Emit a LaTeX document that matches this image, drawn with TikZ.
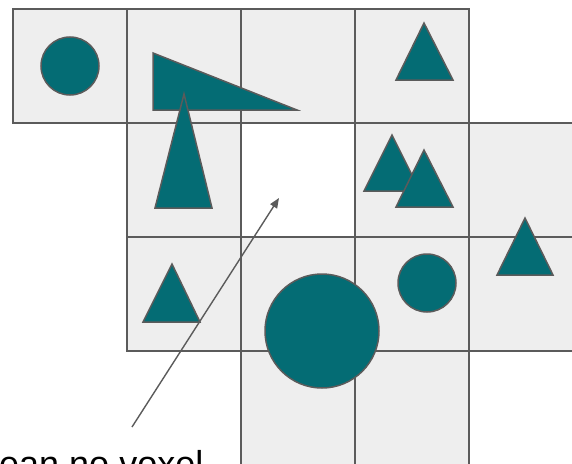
\documentclass[tikz,border=0pt]{standalone}
\usepackage{fontspec}
\setmainfont{Liberation Sans}
\usetikzlibrary{arrows.meta}
\definecolor{cellgray}{HTML}{EEEEEE}
\definecolor{linegray}{HTML}{5B5B5B}
\definecolor{teal}{HTML}{046C74}
\tikzset{
  cellbox/.style={fill=cellgray, draw=linegray, line width=1.8pt},
  shapefill/.style={fill=teal, draw=linegray, line width=1.5pt, line join=miter},
  pointer/.style={draw=linegray, line width=1.4pt, -{Triangle[length=10pt,width=8pt]}},
  label/.style={anchor=base west, inner sep=0pt, font=\fontsize{36}{40}\selectfont}
}
\begin{document}
\begin{tikzpicture}[x=1pt,y=-1pt]
\clip (0,0) rectangle (572,463);
\useasboundingbox (0,0) rectangle (572,463);
% cells (col,row) -> x=13+114*col, y=9+114*row
\foreach \c/\r in {0/0,1/0,2/0,3/0, 1/1,3/1,4/1, 1/2,2/2,3/2,4/2, 2/3,3/3}{
  \draw[cellbox] ({13+114*\c},{9+114*\r}) rectangle ++(114,114);
}
% shapes
\draw[shapefill] (70,66) circle[radius=29];
\draw[shapefill] (153,53) -- (153,110) -- (297,110) -- cycle;
\draw[shapefill] (184,94) -- (212,208) -- (155,208) -- cycle;
\draw[shapefill] (424,23) -- (453,80) -- (396,80) -- cycle;
\draw[shapefill] (392,135) -- (420,191) -- (364,191) -- cycle;
\draw[shapefill] (424,150) -- (453,207) -- (396,207) -- cycle;
\draw[shapefill] (525,218) -- (553,275) -- (497,275) -- cycle;
\draw[shapefill] (172,264) -- (200,322) -- (143,322) -- cycle;
\draw[shapefill] (322,331) circle[radius=57];
\draw[shapefill] (427,283) circle[radius=29];
% pointer
\coordinate (tail) at (132,427);
\coordinate (tip) at (279,198);
\draw[pointer] (tail) -- (tip);
\node[label] (txt) at (-1,476) {ean no voxel};
\end{tikzpicture}
\end{document}
